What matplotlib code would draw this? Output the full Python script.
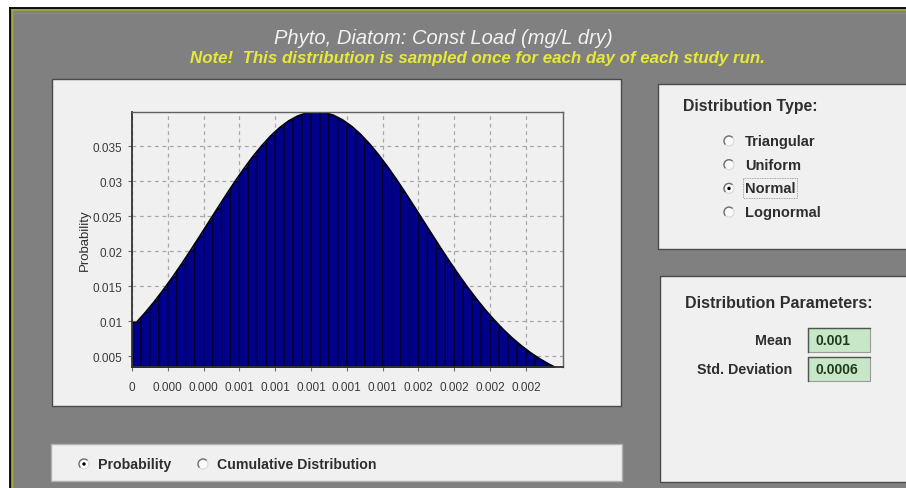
import matplotlib
matplotlib.use('Agg')
import matplotlib.pyplot as plt
from matplotlib.patches import Rectangle, Circle, Arc

plt.rcParams['font.family'] = ['Liberation Sans', 'DejaVu Sans']

# data
bin_width = 0.00005
probability = [0.00981, 0.01124, 0.01279, 0.01446, 0.01622, 0.01808, 0.02001, 0.02199,
               0.02400, 0.02601, 0.02800, 0.02993, 0.03177, 0.03350, 0.03506, 0.03646,
               0.03764, 0.03859, 0.03929, 0.03973, 0.03990, 0.03979, 0.03940, 0.03875,
               0.03785, 0.03671, 0.03536, 0.03382, 0.03213, 0.03031, 0.02839, 0.02641,
               0.02440, 0.02239, 0.02040, 0.01846, 0.01659, 0.01480, 0.01312, 0.01154,
               0.01009, 0.00875, 0.00754, 0.00646, 0.00549, 0.00464, 0.00389, 0.00324]
x_ticks = [0, 0.0002, 0.0004, 0.0006, 0.0008, 0.001, 0.0012, 0.0014, 0.0016, 0.0018, 0.002, 0.0022]
x_tick_labels = ['0', '0.000', '0.000', '0.001', '0.001', '0.001', '0.001', '0.001',
                 '0.002', '0.002', '0.002', '0.002']
y_ticks = [0.005, 0.01, 0.015, 0.02, 0.025, 0.03, 0.035]
y_tick_labels = ['0.005', '0.01', '0.015', '0.02', '0.025', '0.03', '0.035']
dist_types = ['Triangular', 'Uniform', 'Normal', 'Lognormal']
selected_type = 'Normal'
param_names = ['Mean', 'Std. Deviation']
param_values = ['0.001', '0.0006']
plot_modes = ['Probability', 'Cumulative Distribution']
selected_mode = 'Probability'

title = 'Phyto, Diatom: Const Load (mg/L dry)'
note = 'Note!  This distribution is sampled once for each day of each study run.'

W, H = 906, 489
fig = plt.figure(figsize=(W / 100, H / 100), dpi=100, facecolor='white')

# background layer in pixel coordinates
bg = fig.add_axes([0, 0, 1, 1])
bg.set_xlim(0, W)
bg.set_ylim(H, 0)
bg.axis('off')

bg.add_patch(Rectangle((10, 9), W, H, fc='#808080', ec='none'))
bg.plot([10, 10], [9, H], color='black', lw=1.3)
bg.plot([10, W], [9, 9], color='black', lw=1.3)
bg.plot([11.5, W], [11, 11], color='#a4aa3c', lw=1.2)
bg.plot([11.5, 11.5], [11, H], color='#a4aa3c', lw=1.0)
bg.plot([13, W], [13.5, 13.5], color='#8a8898', lw=1.0)

panel_fc = '#f0f0f0'
panel_ec = '#4a4a4a'
bg.add_patch(Rectangle((52, 80), 569, 327, fc=panel_fc, ec=panel_ec, lw=1))
bg.add_patch(Rectangle((658, 85), 260, 165, fc=panel_fc, ec=panel_ec, lw=1))
bg.add_patch(Rectangle((660, 277), 260, 206, fc=panel_fc, ec=panel_ec, lw=1))
bg.add_patch(Rectangle((51, 445), 571, 37, fc=panel_fc, ec='#b0b0b0', lw=1))

bg.text(443, 38, title, ha='center', va='center', fontsize=14.5, style='italic',
        color='#f2f2f2')
bg.text(477, 58, note, ha='center', va='center', fontsize=12.2, style='italic',
        fontweight='bold', color='#e8e83a')

ui_color = '#2e2e2e'


def radio(x, y, on):
    bg.add_patch(Circle((x, y), 5, fc='#fafafa', ec='#d8d8d8', lw=0.8))
    bg.add_patch(Arc((x, y), 10, 10, theta1=135, theta2=315, color='#707070', lw=1.0))
    if on:
        bg.add_patch(Circle((x, y), 1.7, fc='black', ec='none'))


# distribution type panel
bg.text(683, 107, 'Distribution Type:', ha='left', va='center', fontsize=11.4,
        fontweight='bold', color=ui_color)
for i, name in enumerate(dist_types):
    y = 142 + i * 23.7
    radio(729, y, name == selected_type)
    bg.text(745, y, name, ha='left', va='center', fontsize=10.5, fontweight='bold',
            color=ui_color)
    if name == selected_type:
        bg.add_patch(Rectangle((743, y - 10), 54, 20, fc='none', ec='#8a8a8a',
                               lw=0.6, ls=(0, (1, 1))))

# parameters panel
bg.text(685, 303, 'Distribution Parameters:', ha='left', va='center', fontsize=11.5,
        fontweight='bold', color=ui_color)
for i, (name, val) in enumerate(zip(param_names, param_values)):
    y = 341 + i * 28.5
    bg.text(792, y, name, ha='right', va='center', fontsize=10.3, fontweight='bold',
            color=ui_color)
    bg.add_patch(Rectangle((808, y - 12), 62, 24, fc='#c8e6c8', ec='#9a9a9a', lw=0.8))
    bg.plot([808, 808, 870], [y + 12, y - 12, y - 12], color='#4a5a4a', lw=1.0)
    bg.text(815, y, val, ha='left', va='center', fontsize=10, fontweight='bold',
            color='#1e3a1e')

# plot mode panel
mode_x = [84, 203]
for xr, name in zip(mode_x, plot_modes):
    radio(xr, 465, name == selected_mode)
    bg.text(xr + 14, 465, name, ha='left', va='center', fontsize=10.2,
            fontweight='bold', color=ui_color)

# probability chart
ax = fig.add_axes([132 / W, 1 - 368 / H, 431 / W, 255 / H])
ax.set_facecolor(panel_fc)
x_max = 0.002407
lefts = [i * bin_width for i in range(len(probability))]
centers = [lft + bin_width / 2 for lft in lefts]
curve_x = [0] + centers + [x_max]
curve_y = [probability[0]] + probability + [probability[-1]]
navy = '#00008a'
# smooth envelope through the bar tops, bars clipped inside it
area = ax.fill_between(curve_x, 0, curve_y, color=navy, linewidth=0, zorder=2)
bars = ax.bar(lefts, probability, width=bin_width, align='edge', color=navy,
              edgecolor='#000028', linewidth=0.9, zorder=3)
clip = area.get_paths()[0]
for b in bars:
    b.set_clip_path(clip, ax.transData)
    b.set_snap(False)
ax.plot(curve_x, curve_y, color='#000010', linewidth=1.2, zorder=4)
ax.set_xlim(0, x_max)
ax.set_ylim(0.00343, 0.03986)
ax.set_xticks(x_ticks)
ax.set_xticklabels(x_tick_labels)
ax.set_yticks(y_ticks)
ax.set_yticklabels(y_tick_labels)
ax.grid(True, color='#a8a8a8', linestyle=(0, (3, 3)), linewidth=0.9, zorder=0)
ax.set_axisbelow(True)
ax.tick_params(axis='both', labelsize=8.5, labelcolor='#3a3a3a', color='#707070',
               length=3, width=0.8)
ax.tick_params(axis='x', pad=7)
ax.tick_params(axis='y', pad=4)
ax.set_ylabel('Probability', fontsize=9.5, color='#2e2e2e', labelpad=1)
for side in ['left', 'bottom']:
    ax.spines[side].set_color('#333333')
    ax.spines[side].set_linewidth(1.3)
for side in ['top', 'right']:
    ax.spines[side].set_color('#606060')
    ax.spines[side].set_linewidth(1.0)
for s in ax.spines.values():
    s.set_zorder(5)

fig.savefig('out.png', dpi=100, facecolor='white')
